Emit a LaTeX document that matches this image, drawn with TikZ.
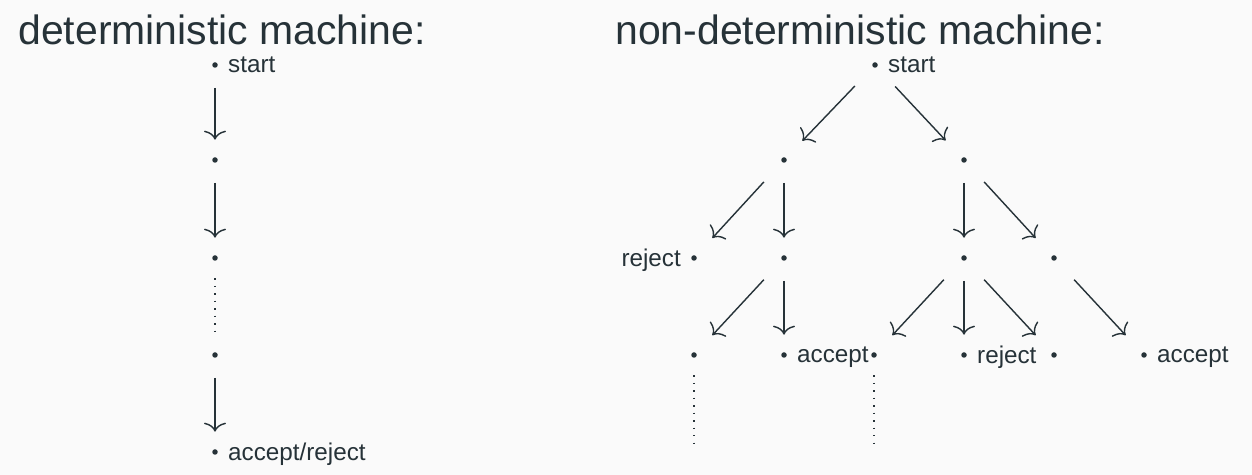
\documentclass[tikz,border=0pt]{standalone}
\usepackage{fontspec}
\setmainfont{Liberation Sans}
\usetikzlibrary{arrows.meta,positioning}

\definecolor{ink}{RGB}{38,50,56}
\definecolor{paper}{RGB}{250,250,250}

\tikzset{
  state/.style={rectangle,minimum width=0.72cm,minimum height=0.8cm,inner sep=0pt,
    path picture={\fill[ink] (path picture bounding box.center) circle (0.055cm);}},
  every label/.style={text=ink,font=\fontsize{13.8}{16}\selectfont,inner sep=0pt,text depth=0pt},
  title/.style={text=ink,font=\fontsize{23.3}{27}\selectfont,inner sep=0pt,anchor=base west},
  move/.style={draw=ink,line width=0.8pt,-{To[length=1.8mm,width=4.4mm]},shorten <=1.5pt},
  more/.style={draw=ink,line width=0.8pt,dash pattern=on 0.8pt off 3.45pt}
}

\begin{document}
\begin{tikzpicture}[x=0.02cm,y=-0.02cm,label distance=-0.11cm]
  % page
  \fill[paper] (0,0) rectangle (1252,475);
  \useasboundingbox (0,0) rectangle (1252,475);

  % titles
  \node[title] (dtitle) at (18,45) {deterministic machine:};
  \node[title] (ntitle) at (615,45) {non-deterministic machine:};

  % deterministic machine
  \node[state,label=right:start] (d0) at (215,65) {};
  \node[state] (d1) at (215,160) {};
  \node[state] (d2) at (215,258) {};
  \node[state] (d3) at (215,355) {};
  \node[state,label=right:accept/reject] (d4) at (215,452) {};

  \draw[move] (d0) -- (d1);
  \draw[move] (d1) -- (d2);
  \draw[more] (d2) -- (d3);
  \draw[move] (d3) -- (d4);

  % non-deterministic machine
  \node[state,label=right:start] (n0) at (875,65) {};

  \node[state] (a) at (784,160) {};
  \node[state] (b) at (964,160) {};

  \node[state,label=left:reject] (aa) at (694,258) {};
  \node[state] (ab) at (784,258) {};
  \node[state] (ba) at (964,258) {};
  \node[state] (bb) at (1054,258) {};

  \node[state] (aba) at (694,355) {};
  \node[state,label=right:accept] (abb) at (784,355) {};
  \node[state] (baa) at (874,355) {};
  \node[state,label=right:reject] (bab) at (964,355) {};
  \node[state] (bac) at (1054,355) {};
  \node[state,label=right:accept] (bba) at (1144,355) {};

  \coordinate (abaend) at (694,447);
  \coordinate (baaend) at (874,447);

  \draw[move] (n0) -- (a);
  \draw[move] (n0) -- (b);
  \draw[move] (a) -- (aa);
  \draw[move] (a) -- (ab);
  \draw[move] (b) -- (ba);
  \draw[move] (b) -- (bb);
  \draw[move] (ab) -- (aba);
  \draw[move] (ab) -- (abb);
  \draw[move] (ba) -- (baa);
  \draw[move] (ba) -- (bab);
  \draw[move] (ba) -- (bac);
  \draw[move] (bb) -- (bba);

  \draw[more] (aba) -- (abaend);
  \draw[more] (baa) -- (baaend);
\end{tikzpicture}
\end{document}
